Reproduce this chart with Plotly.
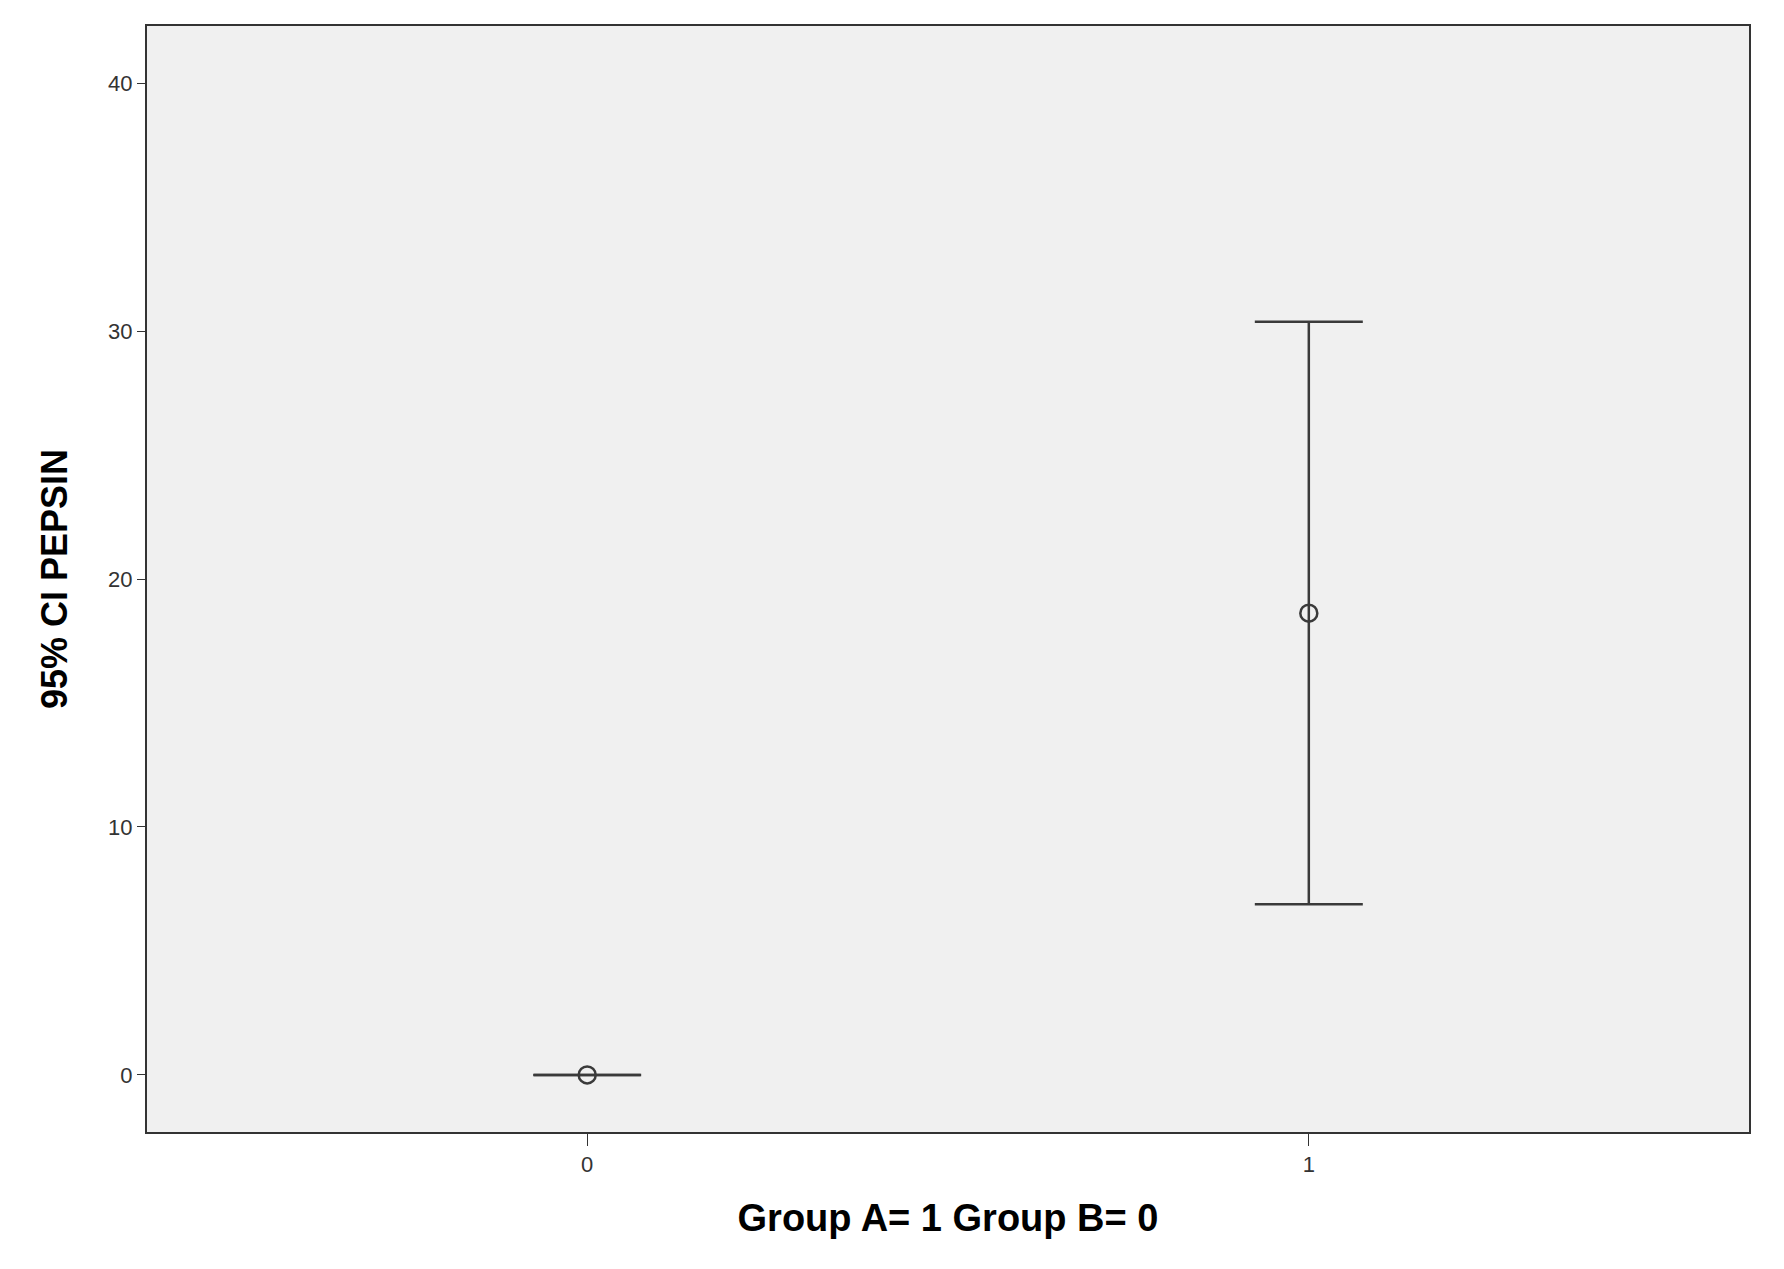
import plotly.graph_objects as go

groups = [0, 1]
means = [0.0, 18.62]
ci_low = [0.0, 6.88]
ci_high = [0.0, 30.37]
y_ticks = [0, 10, 20, 30, 40]

err_plus = [h - m for h, m in zip(ci_high, means)]
err_minus = [m - l for m, l in zip(means, ci_low)]

fig = go.Figure()
fig.add_trace(go.Scatter(
    x=groups, y=means, mode="markers",
    marker=dict(symbol="circle-open", size=17, color="#3a3a3a", line=dict(width=2.5)),
    error_y=dict(type="data", symmetric=False, array=err_plus, arrayminus=err_minus,
                 color="#3a3a3a", thickness=2.5, width=54),
    showlegend=False,
))
# flat CI for group 0 still needs a visible cap line
fig.add_trace(go.Scatter(
    x=[groups[0] - 0.074, groups[0] + 0.074], y=[ci_low[0], ci_high[0]],
    mode="lines", line=dict(color="#3a3a3a", width=2.5), showlegend=False,
))

font_title = "Liberation Sans Narrow, Arial Narrow, Arial"
fig.update_layout(
    width=1784, height=1269,
    margin=dict(l=139, r=43, t=18, b=145),
    paper_bgcolor="white", plot_bgcolor="#f0f0f0",
    font=dict(family="Arial", color="#333"),
)
fig.update_xaxes(
    range=[-0.61, 1.61], tickvals=groups, ticktext=[str(g) for g in groups],
    ticks="outside", ticklen=12, tickcolor="#333", tickfont=dict(size=22),
    showgrid=False, zeroline=False, showline=True, linecolor="#333", linewidth=2, mirror=True,
    title=dict(text="<b>Group A= 1 Group B= 0</b>", font=dict(size=38, family=font_title, color="black"), standoff=28),
)
fig.update_yaxes(
    range=[-2.3, 42.3], tickvals=y_ticks,
    ticks="outside", ticklen=8, tickcolor="#333", tickfont=dict(size=22),
    showgrid=False, zeroline=False, showline=True, linecolor="#333", linewidth=2, mirror=True,
    title=dict(text="<b>95% CI PEPSIN</b>", font=dict(size=36, family=font_title, color="black"), standoff=30),
)

fig.write_html("out.html")
